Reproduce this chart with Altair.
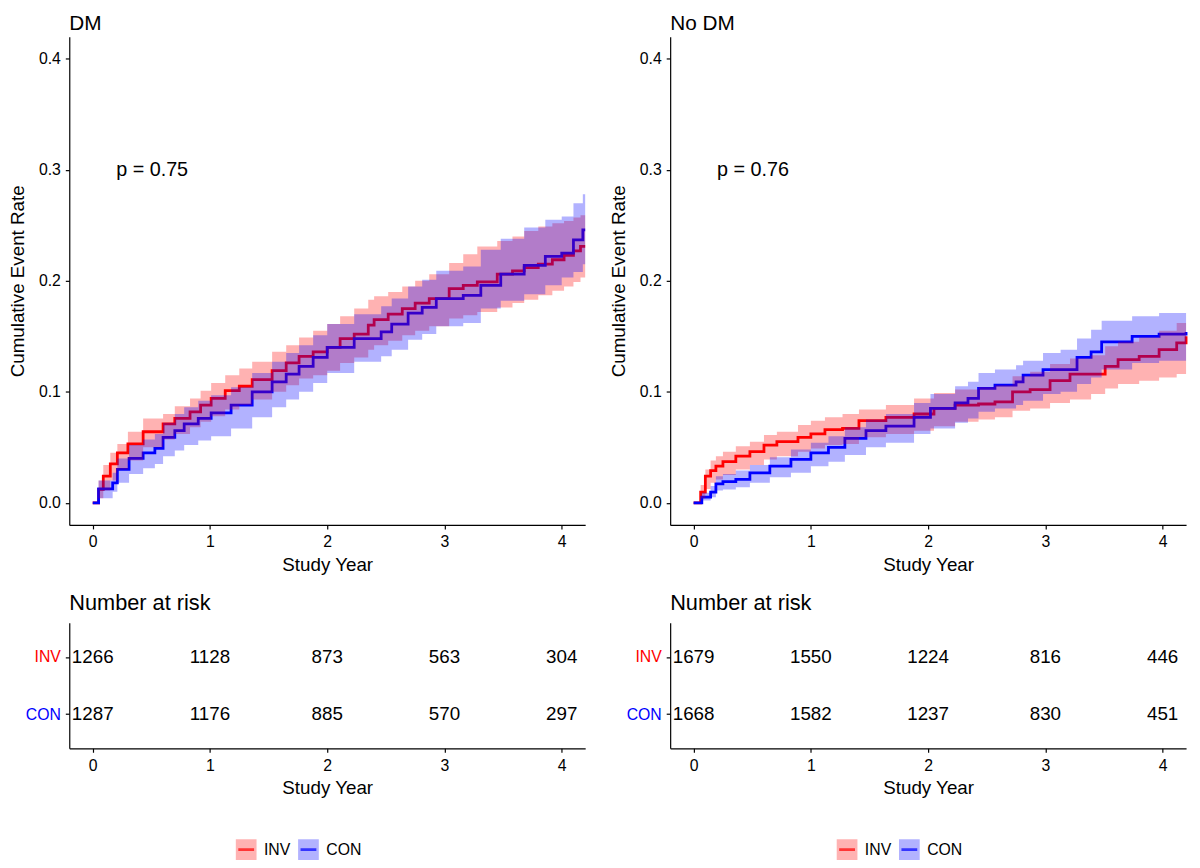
import altair as alt
import pandas as pd

FONT = "Liberation Sans"
GROUPS = ["INV", "CON"]
COLORS = ["#FF0000", "#0000FF"]
YEARS = [0, 1, 2, 3, 4]

# ---------------- DM panel ----------------
DM_INV_T = [0.00, 0.05, 0.09, 0.15, 0.21, 0.30, 0.43, 0.60, 0.70, 0.83, 0.92, 1.01, 1.13, 1.25, 1.36,
            1.53, 1.65, 1.76, 1.88, 2.00, 2.11, 2.23, 2.35, 2.40, 2.52, 2.64, 2.75, 2.87, 3.04, 3.16,
            3.28, 3.45, 3.58, 3.68, 3.80, 3.92, 4.02, 4.10, 4.16, 4.20]
DM_INV_EST = [0.000, 0.012, 0.024, 0.035, 0.045, 0.053, 0.064, 0.071, 0.076, 0.082, 0.088, 0.094, 0.101, 0.105, 0.111,
              0.119, 0.126, 0.132, 0.136, 0.140, 0.148, 0.152, 0.160, 0.165, 0.170, 0.175, 0.180, 0.184, 0.193, 0.196,
              0.199, 0.206, 0.209, 0.212, 0.215, 0.219, 0.223, 0.227, 0.231, 0.231]
DM_INV_LO = [0.000, 0.004, 0.011, 0.020, 0.030, 0.038, 0.050, 0.057, 0.062, 0.068, 0.073, 0.078, 0.084, 0.088, 0.093,
             0.100, 0.106, 0.112, 0.115, 0.119, 0.126, 0.131, 0.138, 0.142, 0.146, 0.151, 0.155, 0.159, 0.166, 0.169,
             0.172, 0.176, 0.180, 0.183, 0.187, 0.191, 0.195, 0.199, 0.203, 0.203]
DM_INV_HI = [0.000, 0.020, 0.034, 0.045, 0.053, 0.064, 0.076, 0.080, 0.087, 0.094, 0.101, 0.108, 0.115, 0.121, 0.127,
             0.136, 0.142, 0.149, 0.155, 0.161, 0.168, 0.175, 0.183, 0.186, 0.190, 0.195, 0.200, 0.206, 0.216, 0.224,
             0.231, 0.236, 0.240, 0.245, 0.249, 0.252, 0.254, 0.257, 0.259, 0.259]

DM_CON_T = [0.00, 0.05, 0.17, 0.21, 0.31, 0.43, 0.53, 0.60, 0.70, 0.78, 0.90, 1.01, 1.18, 1.36, 1.53,
            1.65, 1.76, 1.88, 2.00, 2.23, 2.46, 2.55, 2.69, 2.81, 2.93, 3.16, 3.31, 3.48, 3.68, 3.86,
            4.00, 4.10, 4.18, 4.20]
DM_CON_EST = [0.000, 0.0125, 0.018, 0.030, 0.040, 0.045, 0.049, 0.059, 0.065, 0.071, 0.076, 0.081, 0.088, 0.100, 0.109,
              0.116, 0.123, 0.131, 0.140, 0.148, 0.154, 0.161, 0.171, 0.176, 0.184, 0.187, 0.196, 0.206, 0.214, 0.222,
              0.225, 0.237, 0.246, 0.246]
DM_CON_LO = [0.000, 0.004, 0.010, 0.018, 0.026, 0.031, 0.035, 0.042, 0.047, 0.052, 0.056, 0.060, 0.067, 0.077, 0.086,
             0.093, 0.100, 0.108, 0.117, 0.127, 0.132, 0.138, 0.147, 0.152, 0.159, 0.162, 0.175, 0.182, 0.188, 0.196,
             0.203, 0.208, 0.215, 0.215]
DM_CON_HI = [0.000, 0.020, 0.027, 0.040, 0.052, 0.057, 0.062, 0.072, 0.080, 0.086, 0.092, 0.097, 0.104, 0.117, 0.127,
             0.135, 0.142, 0.151, 0.161, 0.170, 0.177, 0.184, 0.195, 0.201, 0.209, 0.213, 0.228, 0.238, 0.248, 0.255,
             0.258, 0.270, 0.278, 0.278]

# ---------------- No DM panel ----------------
ND_INV_T = [0.00, 0.06, 0.10, 0.145, 0.19, 0.25, 0.36, 0.48, 0.60, 0.71, 0.89, 1.00, 1.12, 1.27, 1.41,
            1.64, 1.88, 2.05, 2.23, 2.43, 2.57, 2.72, 2.87, 3.04, 3.21, 3.39, 3.51, 3.62, 3.80, 3.97,
            4.12, 4.20]
ND_INV_EST = [0.000, 0.0096, 0.024, 0.029, 0.033, 0.037, 0.042, 0.046, 0.052, 0.055, 0.059, 0.062, 0.066, 0.067, 0.074,
              0.077, 0.080, 0.085, 0.088, 0.089, 0.091, 0.100, 0.102, 0.110, 0.116, 0.116, 0.123, 0.129, 0.132, 0.138,
              0.144, 0.150]
ND_INV_LO = [0.000, 0.004, 0.0125, 0.018, 0.021, 0.025, 0.030, 0.034, 0.039, 0.042, 0.046, 0.049, 0.052, 0.053, 0.059,
             0.062, 0.065, 0.069, 0.073, 0.075, 0.077, 0.083, 0.085, 0.090, 0.093, 0.098, 0.103, 0.107, 0.110, 0.113,
             0.116, 0.117]
ND_INV_HI = [0.000, 0.016, 0.030, 0.038, 0.042, 0.046, 0.051, 0.055, 0.061, 0.064, 0.070, 0.074, 0.077, 0.080, 0.084,
             0.088, 0.094, 0.099, 0.102, 0.104, 0.106, 0.114, 0.118, 0.125, 0.130, 0.133, 0.141, 0.145, 0.149, 0.155,
             0.162, 0.167]

ND_CON_T = [0.00, 0.07, 0.145, 0.19, 0.25, 0.36, 0.48, 0.65, 0.83, 1.00, 1.15, 1.29, 1.47, 1.64, 1.88,
            2.02, 2.23, 2.34, 2.43, 2.57, 2.75, 2.81, 2.98, 3.13, 3.27, 3.39, 3.48, 3.74, 3.97, 4.20]
ND_CON_EST = [0.000, 0.005, 0.0096, 0.017, 0.019, 0.021, 0.027, 0.033, 0.039, 0.045, 0.050, 0.058, 0.065, 0.069, 0.077,
              0.085, 0.090, 0.094, 0.103, 0.106, 0.109, 0.115, 0.120, 0.120, 0.131, 0.136, 0.145, 0.150, 0.152, 0.154]
ND_CON_LO = [0.000, 0.002, 0.005, 0.011, 0.012, 0.014, 0.018, 0.023, 0.027, 0.033, 0.037, 0.043, 0.050, 0.054, 0.062,
             0.067, 0.072, 0.076, 0.082, 0.085, 0.088, 0.092, 0.098, 0.100, 0.107, 0.113, 0.120, 0.126, 0.128, 0.131]
ND_CON_HI = [0.000, 0.009, 0.015, 0.024, 0.026, 0.029, 0.034, 0.041, 0.048, 0.054, 0.060, 0.068, 0.075, 0.080, 0.090,
             0.098, 0.105, 0.109, 0.117, 0.120, 0.124, 0.128, 0.135, 0.138, 0.148, 0.156, 0.164, 0.168, 0.171, 0.174]

# ---------------- Numbers at risk ----------------
RISK_DM_INV = [1266, 1128, 873, 563, 304]
RISK_DM_CON = [1287, 1176, 885, 570, 297]
RISK_ND_INV = [1679, 1550, 1224, 816, 446]
RISK_ND_CON = [1668, 1582, 1237, 830, 451]

PANEL_TITLES = ["DM", "No DM"]
PVALUES = ["p = 0.75", "p = 0.76"]

PLOT_W = 522
KM_H = 494
RISK_H = 127
LEGEND_KEY_RANGE = [179, 242]   # legend key placement inside the legend strip (style)

color_scale = alt.Scale(domain=GROUPS, range=COLORS)
x_scale = alt.Scale(domain=[-0.2, 4.2], nice=False, zero=False)


def series_frame(group, t, est, lo, hi):
    return pd.DataFrame({"t": t, "est": est, "lo": lo, "hi": hi, "group": group})


def km_panel(title, inv, con, pval):
    df = pd.concat([series_frame("INV", *inv), series_frame("CON", *con)], ignore_index=True)
    x = alt.X("t:Q", scale=x_scale,
              axis=alt.Axis(values=YEARS, title="Study Year", format="d"))
    y_scale = alt.Scale(domain=[-0.02, 0.42], nice=False, zero=False)
    color = alt.Color("group:N", scale=color_scale, legend=None, sort=GROUPS)
    lines = alt.Chart(df).mark_line(interpolate="step-after", strokeWidth=2.8).encode(
        x=x,
        y=alt.Y("est:Q", scale=y_scale,
                axis=alt.Axis(values=[0, 0.1, 0.2, 0.3, 0.4], format=".1f",
                              title="Cumulative Event Rate", titlePadding=11)),
        color=color,
        detail="group:N",
    )
    bands = alt.Chart(df).mark_area(interpolate="step-after", opacity=0.3).encode(
        x=x, y=alt.Y("lo:Q", scale=y_scale), y2="hi:Q", color=color,
    )
    ptxt = alt.Chart(pd.DataFrame({"t": [0.2], "v": [0.3], "label": [pval]})).mark_text(
        align="left", baseline="middle", fontSize=20, font=FONT, color="black"
    ).encode(x=alt.X("t:Q", scale=x_scale), y=alt.Y("v:Q", scale=y_scale), text="label:N")
    return alt.layer(lines, bands, ptxt).properties(
        width=PLOT_W, height=KM_H,
        title=alt.TitleParams(title, anchor="start", frame="group", fontSize=21,
                              fontWeight="normal", font=FONT, color="black", offset=3),
    )


def risk_panel(inv_counts, con_counts):
    df = pd.DataFrame({
        "t": YEARS + YEARS,
        "row": [1] * len(YEARS) + [2] * len(YEARS),
        "n": inv_counts + con_counts,
    })
    return alt.Chart(df).mark_text(fontSize=19, font=FONT, color="black", baseline="middle").encode(
        x=alt.X("t:Q", scale=x_scale, axis=alt.Axis(values=YEARS, title="Study Year", format="d")),
        y=alt.Y("row:Q", scale=alt.Scale(domain=[0.4, 2.6], reverse=True, nice=False, zero=False),
                axis=alt.Axis(values=[1, 2], title=None,
                              labelExpr="datum.value == 1 ? 'INV' : 'CON'",
                              labelColor={"condition": {"test": "datum.value == 1", "value": COLORS[0]},
                                          "value": COLORS[1]})),
        text="n:Q",
    ).properties(
        width=PLOT_W, height=RISK_H,
        title=alt.TitleParams("Number at risk", anchor="start", frame="group", fontSize=22,
                              fontWeight="normal", font=FONT, color="black", offset=8),
    )


def legend_panel():
    ldf = pd.DataFrame({"group": GROUPS})
    xenc = alt.X("group:N", sort=GROUPS,
                 scale=alt.Scale(type="point", domain=GROUPS, range=LEGEND_KEY_RANGE, padding=0), axis=None)
    color = alt.Color("group:N", scale=color_scale, legend=None)
    keys = alt.Chart(ldf).mark_square(size=440, filled=True, opacity=0.3, strokeWidth=0).encode(x=xenc, color=color)
    ticks = alt.Chart(ldf).mark_tick(orient="horizontal", size=16, thickness=2.8).encode(x=xenc, color=color)
    labels = alt.Chart(ldf).mark_text(align="left", baseline="middle", dx=18, fontSize=16,
                                       font=FONT, color="black").encode(x=xenc, text="group:N")
    return alt.layer(keys, ticks, labels).properties(width=PLOT_W, height=21)


def column(i, inv, con, rinv, rcon):
    top = alt.vconcat(km_panel(PANEL_TITLES[i], inv, con, PVALUES[i]), risk_panel(rinv, rcon), spacing=18)
    return alt.vconcat(top, legend_panel(), spacing=42)


left = column(0, (DM_INV_T, DM_INV_EST, DM_INV_LO, DM_INV_HI), (DM_CON_T, DM_CON_EST, DM_CON_LO, DM_CON_HI),
              RISK_DM_INV, RISK_DM_CON)
right = column(1, (ND_INV_T, ND_INV_EST, ND_INV_LO, ND_INV_HI), (ND_CON_T, ND_CON_EST, ND_CON_LO, ND_CON_HI),
               RISK_ND_INV, RISK_ND_CON)

chart = alt.hconcat(left, right, spacing=18).properties(padding=0).configure_view(stroke=None).configure_axis(
    grid=False, domainColor="black", tickColor="black", labelColor="black", titleColor="black",
    domainWidth=1.2, tickWidth=1.2, tickSize=4, labelFont=FONT, titleFont=FONT,
    labelFontSize=16, titleFontSize=19, titleFontWeight="normal", labelPadding=5, titlePadding=6,
).configure_concat(spacing=18)

chart.save("out.html", embed_options={"renderer": "svg", "actions": False})
